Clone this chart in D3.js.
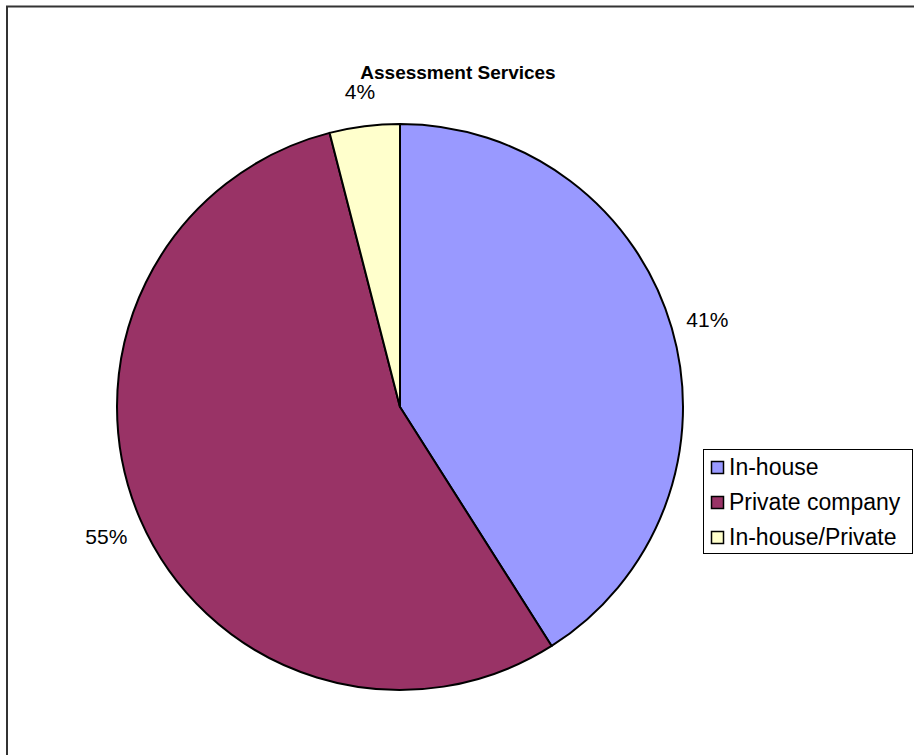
<!DOCTYPE html>
<html>
<head>
<meta charset="utf-8">
<script src="https://cdn.jsdelivr.net/npm/d3@7"></script>
<style>
  html, body { margin: 0; padding: 0; background: #fff; }
  svg { display: block; }
  text { font-family: Arial, "Liberation Sans", sans-serif; fill: #000; }
</style>
</head>
<body>
<div id="chart"></div>
<script>
// Assessment Services: share of respondents by provider type
const categories = ["In-house", "Private company", "In-house/Private"];
const values = [41, 55, 4];
const colors = ["#9999FF", "#993366", "#FFFFCC"];
const title = "Assessment Services";

const width = 914, height = 755;
const svg = d3.select("#chart").append("svg")
  .attr("width", width).attr("height", height);

// chart area frame (runs off the right and bottom edges)
svg.append("rect")
  .attr("x", 7).attr("y", 6.5)
  .attr("width", 940).attr("height", 800)
  .attr("fill", "#fff")
  .attr("stroke", "#333").attr("stroke-width", 2);

svg.append("text")
  .attr("x", 458).attr("y", 79)
  .attr("text-anchor", "middle")
  .attr("font-weight", "bold")
  .attr("font-size", 19)
  .text(title);

const cx = 400, cy = 407, r = 283;
const color = d3.scaleOrdinal().domain(categories).range(colors);

const pie = d3.pie().sort(null).value(d => d.value);
const data = categories.map((c, i) => ({ name: c, value: values[i] }));
const arcs = pie(data);

const arc = d3.arc().innerRadius(0).outerRadius(r);
const labelArc = d3.arc().innerRadius(320).outerRadius(320);

const g = svg.append("g").attr("transform", `translate(${cx},${cy})`);

g.selectAll("path.slice")
  .data(arcs)
  .join("path")
  .attr("class", "slice")
  .attr("d", arc)
  .attr("fill", d => color(d.data.name))
  .attr("stroke", "#000")
  .attr("stroke-width", 2)
  .attr("stroke-linejoin", "round");

const total = d3.sum(values);
g.selectAll("text.pct")
  .data(arcs)
  .join("text")
  .attr("class", "pct")
  .attr("transform", d => `translate(${labelArc.centroid(d)})`)
  .attr("text-anchor", "middle")
  .attr("dy", "0.45em")
  .attr("font-size", 21)
  .text(d => Math.round(d.data.value / total * 100) + "%");

// legend
const lg = svg.append("g").attr("transform", "translate(703,449)");
lg.append("rect")
  .attr("x", 0.5).attr("y", 0.5)
  .attr("width", 209).attr("height", 104)
  .attr("fill", "#fff")
  .attr("stroke", "#000").attr("stroke-width", 1);

const row = lg.selectAll("g.row")
  .data(categories)
  .join("g")
  .attr("class", "row")
  .attr("transform", (d, i) => `translate(0,${18 + i * 35})`);

row.append("rect")
  .attr("x", 8.5).attr("y", -5.5)
  .attr("width", 12).attr("height", 12)
  .attr("fill", d => color(d))
  .attr("stroke", "#000").attr("stroke-width", 1.5);

row.append("text")
  .attr("x", 26).attr("y", 0)
  .attr("dy", "0.36em")
  .attr("font-size", 23)
  .text(d => d);
</script>
</body>
</html>
